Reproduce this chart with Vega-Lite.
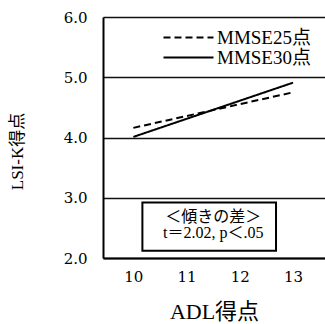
{
  "$schema": "https://vega.github.io/schema/vega-lite/v6.json",
  "width": 222,
  "height": 241,
  "autosize": "none",
  "padding": {"left": 103, "top": 17, "right": 0, "bottom": 66},
  "background": "white",
  "config": {
    "font": "Liberation Serif, Noto Sans CJK JP",
    "view": {"stroke": null}
  },
  "layer": [
    {
      "data": {"values": [
        {"series": "MMSE25点", "adl": 10, "lsik": 4.16},
        {"series": "MMSE25点", "adl": 13, "lsik": 4.75},
        {"series": "MMSE30点", "adl": 10, "lsik": 4.01},
        {"series": "MMSE30点", "adl": 13, "lsik": 4.91}
      ]},
      "mark": {"type": "line", "color": "black", "strokeWidth": 2},
      "encoding": {
        "x": {
          "field": "adl", "type": "quantitative",
          "scale": {"domain": [9.43, 13.6], "nice": false, "zero": false},
          "axis": {
            "title": "ADL得点", "values": [10, 11, 12, 13], "format": "d",
            "ticks": false, "grid": false, "domainColor": "black", "domainWidth": 2,
            "labelFont": "DejaVu Serif", "labelFontSize": 15, "labelColor": "black", "labelPadding": 11,
            "titleFont": "Liberation Serif, Noto Sans CJK JP", "titleFontSize": 22, "titleFontWeight": "normal",
            "titleColor": "black", "titlePadding": 17
          }
        },
        "y": {
          "field": "lsik", "type": "quantitative",
          "scale": {"domain": [2, 6], "nice": false, "zero": false},
          "axis": {
            "title": "LSI-K得点", "values": [2, 3, 4, 5, 6], "format": ".1f",
            "ticks": false, "grid": true, "gridColor": "#111", "gridWidth": 1.6, "gridOpacity": 1,
            "domainColor": "black", "domainWidth": 2,
            "labelFont": "DejaVu Serif", "labelFontSize": 15, "labelColor": "black", "labelPadding": 16,
            "titleFont": "Liberation Serif, Noto Sans CJK JP", "titleFontSize": 17, "titleFontWeight": "normal",
            "titleColor": "black", "titleX": -86, "titleY": 134, "titleBaseline": "middle", "titleAlign": "center", "titleAngle": -90
          }
        },
        "strokeDash": {
          "field": "series", "type": "nominal",
          "scale": {"domain": ["MMSE25点", "MMSE30点"], "range": [[7, 4], [1, 0]]},
          "legend": {
            "title": null, "orient": "none", "legendX": 101, "legendY": 11, "padding": 0,
            "symbolType": "M-10,0H0", "symbolSize": 100, "symbolStrokeWidth": 2, "symbolStrokeColor": "black",
            "labelFont": "Liberation Serif, Noto Sans CJK JP", "labelFontSize": 19, "labelColor": "black",
            "labelOffset": -6, "rowPadding": 0
          }
        },
        "detail": {"field": "series"}
      }
    },
    {
      "data": {"values": [{"label": "box"}]},
      "mark": {"type": "rect", "fill": "white", "stroke": "black", "strokeWidth": 2},
      "encoding": {
        "x": {"datum": 10.17, "type": "quantitative"},
        "x2": {"datum": 12.68},
        "y": {"datum": 2.12, "type": "quantitative"},
        "y2": {"datum": 2.92}
      }
    },
    {
      "data": {"values": [
        {"line": "＜傾きの差＞", "pos": 2.68},
        {"line": "t＝2.02, p＜.05", "pos": 2.41}
      ]},
      "mark": {"type": "text", "fontSize": 16, "color": "black", "align": "center", "baseline": "middle", "font": "Liberation Serif, Noto Sans CJK JP"},
      "encoding": {
        "x": {"datum": 11.5, "type": "quantitative"},
        "y": {"field": "pos", "type": "quantitative"},
        "text": {"field": "line"}
      }
    }
  ]
}
